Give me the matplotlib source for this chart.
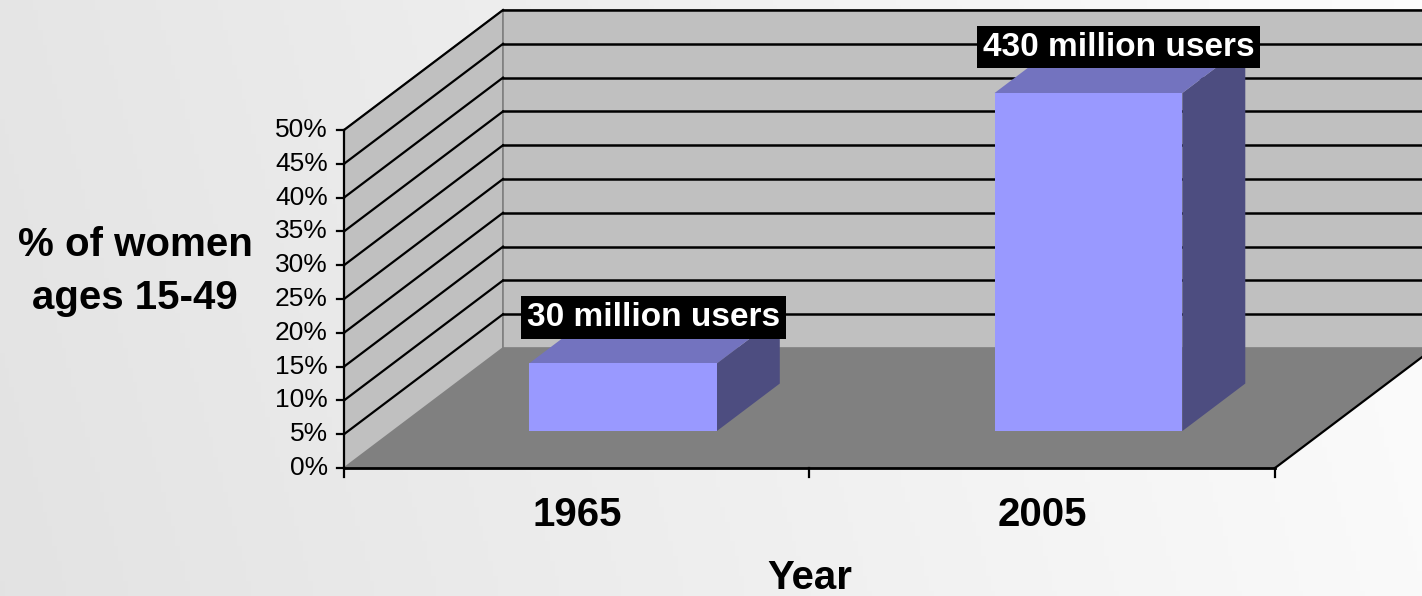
import matplotlib
matplotlib.use('Agg')
import matplotlib.pyplot as plt
import numpy as np
from matplotlib.patches import Polygon

## data
years = ['1965', '2005']
share = [10, 50]                      # % of women ages 15-49
bar_labels = ['30 million users', '430 million users']
yticks = list(range(0, 55, 5))

plt.rcParams['font.family'] = ['Liberation Sans', 'DejaVu Sans']

fig = plt.figure(figsize=(14.22, 5.96), dpi=100)
ax = fig.add_axes([0, 0, 1, 1])
ax.set_xlim(-1.239, 1.8158)
ax.set_ylim(-18.93, 69.23)
ax.axis('off')

## background gradient
gx = np.linspace(0, 1, 300)
gy = np.linspace(0, 1, 120)
GX, GY = np.meshgrid(gx, gy)
shade = 0.89 + 0.09 * GX + 0.01 * GY
ax.imshow(np.dstack([shade] * 3), extent=(-1.239, 1.8158, -18.93, 69.23),
          aspect='auto', zorder=0, origin='lower')

## oblique projection: one unit of depth -> (ddx, ddy) in data units
ddx, ddy = 0.3416, 17.75
x0, x1 = -0.5, len(years) - 0.5
ymax = yticks[-1]

def P(x, y, d):
    return (x + d * ddx, y + d * ddy)

## floor
ax.add_patch(Polygon([P(x0, 0, 0), P(x1, 0, 0), P(x1, 0, 1), P(x0, 0, 1)],
                     fc='#808080', ec='none', zorder=1))
## side wall and back wall
ax.add_patch(Polygon([P(x0, 0, 0), P(x0, 0, 1), P(x0, ymax, 1), P(x0, ymax, 0)],
                     fc='#c0c0c0', ec='#808080', lw=1.2, zorder=1))
ax.add_patch(Polygon([P(x0, 0, 1), P(x1, 0, 1), P(x1, ymax, 1), P(x0, ymax, 1)],
                     fc='#c0c0c0', ec='#808080', lw=1.2, zorder=1))

## gridlines on walls
for t in yticks[1:]:
    a, b = P(x0, t, 0), P(x0, t, 1)
    ax.plot([a[0], b[0]], [a[1], b[1]], c='k', lw=1.6, zorder=2)
    c1, c2 = P(x0, t, 1), P(x1, t, 1)
    ax.plot([c1[0], c2[0]], [c1[1], c2[1]], c='k', lw=1.8, zorder=2)

## axes lines
ax.plot([x0, x0], [0, ymax], c='k', lw=1.6, zorder=3)
ax.plot([x0, x1], [0, 0], c='k', lw=2, zorder=3)
a, b = P(x1, 0, 0), P(x1, 0, 1)
ax.plot([a[0], b[0]], [a[1], b[1]], c='k', lw=1.6, zorder=3)
tlx = 7 / 465.5
tly = 1.3
for t in yticks:
    ax.plot([x0 - tlx, x0], [t, t], c='k', lw=1.6, zorder=3)
    ax.text(x0 - 2.3 * tlx, t, '%d%%' % t, ha='right', va='center', fontsize=19, zorder=3)
for xt in np.arange(x0, x1 + 0.01, 1.0):
    ax.plot([xt, xt], [0, -tly], c='k', lw=1.6, zorder=3)

## bars
w = 0.2017
d0, d1 = 0.308, 0.704
for i, v in enumerate(share):
    c = i - 0.006
    front = [P(c - w, 0, d0), P(c + w, 0, d0), P(c + w, v, d0), P(c - w, v, d0)]
    top = [P(c - w, v, d0), P(c + w, v, d0), P(c + w, v, d1), P(c - w, v, d1)]
    side = [P(c + w, 0, d0), P(c + w, 0, d1), P(c + w, v, d1), P(c + w, v, d0)]
    ax.add_patch(Polygon(side, fc='#4d4d80', ec='none', zorder=4))
    ax.add_patch(Polygon(top, fc='#7373bf', ec='none', zorder=4))
    ax.add_patch(Polygon(front, fc='#9999ff', ec='none', zorder=4))
    lx, ly = P(c, v, 0.5)
    ax.text(lx, ly + 3.4, bar_labels[i], ha='center', va='center',
            fontsize=24, fontweight='bold', color='white', zorder=5,
            bbox=dict(boxstyle='square,pad=0.17', fc='black', ec='none'))

## category labels and titles
for i, yr in enumerate(years):
    ax.text(i, -6.9, yr, ha='center', va='center', fontsize=29, fontweight='bold')
ax.text((x0 + x1) / 2, -17.9, 'Year', ha='center', va='baseline', fontsize=29, fontweight='bold')
ax.text(-1.239 + 135 / 465.5, 29.1, '% of women\nages 15-49', ha='center', va='center',
        multialignment='center', linespacing=1.5, fontsize=29, fontweight='bold')

plt.savefig('out.png', dpi=100)
